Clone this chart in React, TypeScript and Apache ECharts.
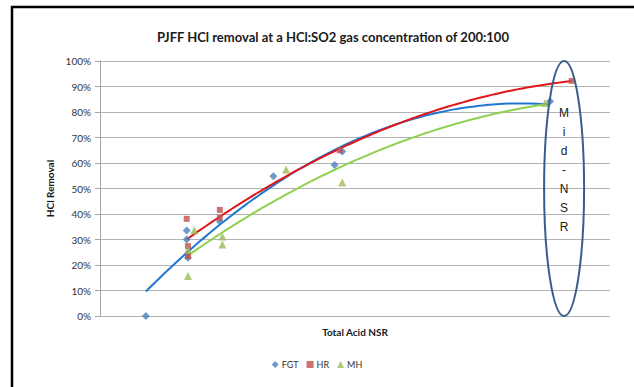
import React, { useEffect, useRef } from "react";
import * as echarts from "echarts";

// Total Acid NSR (x) and HCl removal % (y)
const fgtX = [0.18, 0.34, 0.34, 0.345, 0.47, 0.68, 0.92, 0.95, 1.765];
const fgtY = [0, 33.5, 30, 22.8, 37.1, 54.8, 59.2, 64.5, 84.2];
const hrX = [0.34, 0.345, 0.345, 0.47, 0.47, 0.94, 1.85];
const hrY = [38.1, 27.4, 23.5, 41.6, 38.6, 65, 92.2];
const mhX = [0.37, 0.345, 0.345, 0.48, 0.48, 0.73, 0.95, 1.745];
const mhY = [33.6, 26, 15.7, 31.2, 28, 57.5, 52.4, 83.5];
const yTicks = [0, 10, 20, 30, 40, 50, 60, 70, 80, 90, 100];
const noteLetters = ["M", "i", "d", "-", "N", "S", "R"];
const noteX = 1.82;

function polyFit(xs: number[], ys: number[]) {
  // quadratic least squares (Excel polynomial trendline, order 2)
  const s = [0, 0, 0, 0, 0];
  const t = [0, 0, 0];
  for (let i = 0; i < xs.length; i++) {
    let p = 1;
    for (let k = 0; k < 5; k++) {
      s[k] += p;
      if (k < 3) t[k] += p * ys[i];
      p *= xs[i];
    }
  }
  const A = [
    [s[0], s[1], s[2], t[0]],
    [s[1], s[2], s[3], t[1]],
    [s[2], s[3], s[4], t[2]],
  ];
  for (let c = 0; c < 3; c++) {
    let piv = c;
    for (let r = c + 1; r < 3; r++) if (Math.abs(A[r][c]) > Math.abs(A[piv][c])) piv = r;
    [A[c], A[piv]] = [A[piv], A[c]];
    for (let r = 0; r < 3; r++) {
      if (r === c) continue;
      const f = A[r][c] / A[c][c];
      for (let k = c; k < 4; k++) A[r][k] -= f * A[c][k];
    }
  }
  return [A[0][3] / A[0][0], A[1][3] / A[1][1], A[2][3] / A[2][2]];
}

function trend(xs: number[], ys: number[]) {
  const [a, b, c] = polyFit(xs, ys);
  const lo = Math.min(...xs);
  const hi = Math.max(...xs);
  const pts: number[][] = [];
  const n = 60;
  for (let i = 0; i <= n; i++) {
    const x = lo + ((hi - lo) * i) / n;
    pts.push([x, a + b * x + c * x * x]);
  }
  return pts;
}

const zip = (xs: number[], ys: number[]) => xs.map((x, i) => [x, ys[i]]);

export default function App() {
  const ref = useRef<HTMLDivElement>(null);
  useEffect(() => {
    document.body.style.margin = "0";
    const chart = echarts.init(ref.current!, null, { renderer: "svg" });
    const font = "Lato, 'Liberation Sans', sans-serif";
    chart.setOption({
      animation: false,
      backgroundColor: "#ffffff",
      textStyle: { fontFamily: font },
      title: {
        text: "PJFF HCl removal at a HCl:SO2 gas concentration of 200:100",
        left: 328,
        textAlign: "center",
        top: 25,
        textStyle: { fontSize: 13, fontWeight: "bold", color: "#1a1a1a", fontFamily: font },
      },
      legend: {
        data: ["FGT", "HR", "MH"],
        left: "center",
        top: 355,
        itemWidth: 7,
        itemHeight: 7,
        itemGap: 8,
        textStyle: { fontSize: 9, color: "#333", padding: [0, 0, 0, -2] },
      },
      grid: { left: 100, right: 24, top: 61, bottom: 71 },
      xAxis: {
        type: "value",
        min: 0,
        max: 2,
        name: "Total Acid NSR",
        nameLocation: "middle",
        nameGap: 11,
        nameTextStyle: { fontSize: 10, fontWeight: "bold", color: "#1a1a1a" },
        axisLine: { show: false },
        axisTick: { show: false },
        axisLabel: { show: false },
        splitLine: { show: false },
      },
      yAxis: {
        type: "value",
        min: 0,
        max: 100,
        interval: 10,
        name: "HCl Removal",
        nameLocation: "middle",
        nameGap: 44,
        nameTextStyle: { fontSize: 10, fontWeight: "bold", color: "#1a1a1a" },
        axisLine: { show: true, lineStyle: { color: "#a6a6a6" } },
        axisTick: { show: true, length: 5, lineStyle: { color: "#a6a6a6" } },
        axisLabel: {
          fontSize: 10,
          color: "#333",
          margin: 9,
          formatter: (v: number) => (yTicks.includes(v) ? v + "%" : ""),
        },
        splitLine: { show: true, lineStyle: { color: "#b3b3b3", width: 1 } },
      },
      series: [
        {
          name: "FGT trend",
          type: "line",
          data: trend(fgtX, fgtY),
          showSymbol: false,
          smooth: true,
          lineStyle: { color: "#1f77d0", width: 2 },
          z: 3,
        },
        {
          name: "HR trend",
          type: "line",
          data: trend(hrX, hrY),
          showSymbol: false,
          smooth: true,
          lineStyle: { color: "#e0161b", width: 2 },
          z: 3,
        },
        {
          name: "MH trend",
          type: "line",
          data: trend(mhX, mhY),
          showSymbol: false,
          smooth: true,
          lineStyle: { color: "#8fd14f", width: 2 },
          z: 3,
        },
        {
          name: "FGT",
          type: "scatter",
          data: zip(fgtX, fgtY),
          symbol: "diamond",
          symbolSize: 8,
          itemStyle: { color: "#4a7ebb" },
          z: 4,
        },
        {
          name: "HR",
          type: "scatter",
          data: zip(hrX, hrY),
          symbol: "rect",
          symbolSize: 6,
          itemStyle: { color: "#c0504d" },
          z: 4,
        },
        {
          name: "MH",
          type: "scatter",
          data: zip(mhX, mhY),
          symbol: "triangle",
          symbolSize: 8,
          itemStyle: { color: "#9bbb59" },
          z: 4,
        },
      ],
    });

    const c = chart.convertToPixel({ xAxisIndex: 0, yAxisIndex: 0 }, [noteX, 50]) as number[];
    const top = chart.convertToPixel({ xAxisIndex: 0, yAxisIndex: 0 }, [noteX, 100]) as number[];
    const ry = c[1] - top[1];
    const letters = noteLetters.map((ch, i) => ({
      type: "text",
      x: c[0],
      y: top[1] + 52 + i * 19,
      style: {
        text: ch,
        fontSize: 12,
        fontFamily: "'Liberation Sans', Arial, sans-serif",
        fill: "#1a1a1a",
        align: "center",
        verticalAlign: "middle",
      },
      z: 10,
    }));
    chart.setOption({
      graphic: [
        {
          type: "rect",
          shape: { x: 12, y: 7, width: 640, height: 400 },
          style: { fill: "none", stroke: "#000", lineWidth: 2.5 },
          z: 10,
        },
        {
          type: "ellipse",
          shape: { cx: c[0], cy: c[1], rx: 20, ry: ry },
          style: { fill: "none", stroke: "#385d8a", lineWidth: 2 },
          z: 10,
        },
        ...letters,
      ],
    });
    return () => chart.dispose();
  }, []);
  return <div ref={ref} style={{ width: 634, height: 387 }} />;
}
